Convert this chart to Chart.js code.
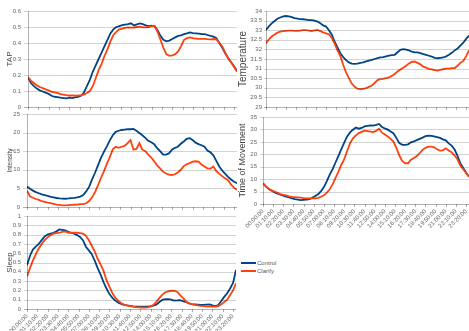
<!DOCTYPE html>
<html>
<head>
<meta charset="utf-8">
<script src="https://cdn.jsdelivr.net/npm/chart.js@4"></script>
<style>
  html, body { margin: 0; padding: 0; background: #fff; }
  body { width: 469px; height: 331px; position: relative; overflow: hidden; font-family: "Liberation Sans", Arial, sans-serif; }
  canvas { position: absolute; z-index: 1; }
  .rule { position: absolute; z-index: 2; mix-blend-mode: multiply; pointer-events: none; }
  #legend { position: absolute; left: 241px; top: 259px; font-size: 6px; color: #555; }
  #legend div { height: 8px; line-height: 8px; white-space: nowrap; }
  #legend .sw { display: inline-block; width: 15px; height: 2px; vertical-align: middle; margin-right: 1px; }
</style>
</head>
<body>
<div id="legend"></div>
<script>
// x axis: one reading every 20 minutes, labels every 70 minutes
const xTickLabels = ['00:00:00', '01:10:00', '02:20:00', '03:30:00', '04:40:00', '05:50:00', '07:00:00',
  '08:10:00', '09:20:00', '10:30:00', '11:40:00', '12:50:00', '14:00:00', '15:10:00', '16:20:00',
  '17:30:00', '18:40:00', '19:50:00', '21:00:00', '22:10:00', '23:20:00'];
const seriesNames = ['Control', 'Clarify'];

// y tick labels per panel
const tapTicks = [0, 0.1, 0.2, 0.3, 0.4, 0.5, 0.6];
const tempTicks = [29, 29.5, 30, 30.5, 31, 31.5, 32, 32.5, 33, 33.5, 34];
const intensityTicks = [0, 5, 10, 15, 20, 25];
const movementTicks = [0, 5, 10, 15, 20, 25, 30, 35];
const sleepTicks = [0, 0.1, 0.2, 0.3, 0.4, 0.5, 0.6, 0.7, 0.8, 0.9, 1];

// series (72 readings, 00:00 .. 23:40)
const tapControl = [
  .187, .15, .13, .115, .104, .097, .090, .082, .070, .064, .062, .058,
  .056, .054, .058, .056, .060, .064, .070, .090, .13, .17, .22, .26,
  .30, .34, .38, .42, .46, .485, .50, .505, .512, .515, .518, .523,
  .510, .516, .522, .518, .510, .505, .508, .505, .48, .445, .42, .41,
  .415, .425, .435, .444, .448, .455, .46, .466, .462, .46, .458, .456,
  .455, .45, .444, .44, .43, .40, .37, .335, .305, .28, .255, .225];
const tapClarify = [
  .187, .165, .150, .135, .125, .118, .110, .104, .095, .092, .088, .081,
  .078, .074, .072, .072, .071, .072, .074, .078, .087, .10, .13, .18,
  .23, .27, .32, .36, .41, .45, .47, .485, .49, .495, .498, .496,
  .497, .50, .502, .498, .498, .50, .505, .506, .47, .42, .37, .33,
  .32, .322, .33, .347, .38, .42, .43, .435, .43, .428, .426, .426,
  .426, .424, .423, .425, .423, .40, .378, .34, .305, .28, .25, .22];

const tempControl = [
  33.01, 33.2, 33.36, 33.48, 33.6, 33.66, 33.72, 33.74, 33.72, 33.68, 33.63, 33.6,
  33.58, 33.57, 33.55, 33.53, 33.52, 33.5, 33.45, 33.36, 33.25, 33.19, 33.0, 32.78,
  32.4, 32.1, 31.8, 31.6, 31.44, 31.32, 31.26, 31.25, 31.26, 31.3, 31.33, 31.38,
  31.42, 31.45, 31.5, 31.54, 31.58, 31.6, 31.64, 31.68, 31.7, 31.72, 31.85, 31.98,
  32.01, 31.99, 31.95, 31.88, 31.85, 31.84, 31.8, 31.76, 31.72, 31.67, 31.62, 31.56,
  31.54, 31.56, 31.58, 31.64, 31.72, 31.82, 31.95, 32.05, 32.2, 32.35, 32.55, 32.72];
const tempClarify = [
  32.32, 32.52, 32.67, 32.78, 32.87, 32.92, 32.95, 32.97, 32.98, 32.98, 32.97, 32.96,
  32.98, 33.0, 33.0, 32.98, 32.96, 32.99, 33.01, 32.95, 32.89, 32.84, 32.79, 32.6,
  32.3, 31.95, 31.65, 31.2, 30.8, 30.5, 30.22, 30.05, 29.95, 29.93, 29.95, 29.98,
  30.05, 30.12, 30.25, 30.4, 30.45, 30.47, 30.5, 30.54, 30.62, 30.72, 30.85, 30.95,
  31.05, 31.15, 31.27, 31.35, 31.37, 31.3, 31.22, 31.1, 31.05, 30.99, 30.96, 30.92,
  30.9, 30.94, 30.97, 31.0, 31.0, 31.02, 31.03, 31.15, 31.3, 31.4, 31.65, 31.95];

const intensityControl = [
  5.54, 4.9, 4.4, 4.0, 3.7, 3.4, 3.2, 3.0, 2.75, 2.6, 2.42, 2.3,
  2.25, 2.22, 2.3, 2.4, 2.45, 2.6, 2.8, 3.2, 4.2, 5.4, 7.4, 9.2,
  11.2, 13.2, 14.8, 16.3, 17.9, 19.3, 20.2, 20.5, 20.7, 20.8, 20.9, 20.9,
  21.0, 20.5, 19.9, 19.3, 18.6, 17.8, 17.4, 16.9, 15.8, 15.0, 14.1, 14.1,
  14.4, 15.4, 15.9, 16.2, 17.0, 17.6, 18.3, 18.5, 18.0, 17.3, 16.9, 16.6,
  16.2, 15.2, 14.7, 13.9, 12.4, 10.9, 9.8, 8.9, 8.1, 7.4, 6.8, 6.4];
const intensityClarify = [
  4.38, 2.9, 2.5, 2.15, 1.9, 1.6, 1.4, 1.2, 1.05, 0.85, 0.65, 0.55,
  0.45, 0.45, 0.5, 0.55, 0.6, 0.65, 0.75, 0.8, 1.0, 1.6, 2.6, 4.0,
  5.8, 7.8, 9.6, 11.6, 13.4, 15.5, 16.2, 15.9, 16.2, 16.4, 17.2, 18.0,
  15.4, 15.6, 17.2, 15.4, 15.0, 14.1, 13.3, 12.3, 11.2, 10.4, 9.5, 9.0,
  8.7, 8.6, 8.8, 9.3, 10.0, 11.0, 11.5, 11.8, 12.2, 12.3, 12.2, 11.4,
  10.9, 10.4, 10.3, 10.9, 9.6, 8.9, 8.3, 7.7, 7.2, 6.0, 5.2, 4.6];

const movementControl = [
  8.3, 7.1, 6.0, 5.3, 4.7, 4.2, 3.8, 3.4, 3.0, 2.7, 2.3, 2.0,
  1.8, 1.6, 1.7, 1.75, 2.0, 2.5, 3.2, 3.9, 5.2, 6.8, 9.2, 11.8,
  14.0, 16.7, 19.4, 22.1, 24.7, 27.2, 28.8, 29.9, 30.8, 30.3, 30.6, 31.2,
  31.4, 31.6, 31.5, 31.8, 32.2, 31.0, 30.4, 29.9, 29.2, 28.4, 26.5, 24.5,
  23.8, 23.8, 24.0, 24.8, 25.2, 25.7, 26.2, 26.7, 27.3, 27.5, 27.4, 27.2,
  26.9, 26.6, 26.0, 25.6, 24.4, 23.5, 22.0, 19.5, 16.4, 14.5, 12.6, 11.0];
const movementClarify = [
  8.3, 7.0, 6.1, 5.5, 5.0, 4.5, 4.0, 3.7, 3.5, 3.1, 2.9, 2.8,
  2.7, 2.6, 2.4, 2.3, 2.3, 2.3, 2.3, 2.5, 2.9, 3.5, 4.6, 5.9,
  8.0, 10.5, 13.0, 15.8, 18.0, 21.3, 24.4, 26.4, 27.6, 28.5, 29.0, 29.5,
  29.3, 29.1, 28.9, 29.4, 30.3, 28.7, 28.0, 27.2, 26.2, 25.0, 22.5, 19.5,
  17.2, 16.4, 16.4, 17.8, 18.5, 19.3, 20.5, 21.8, 22.6, 23.1, 23.1, 22.8,
  22.0, 21.5, 21.6, 22.4, 21.5, 20.8, 19.6, 18.0, 15.5, 14.0, 12.5, 11.0];

const sleepControl = [
  0.47, 0.57, 0.64, 0.67, 0.70, 0.74, 0.78, 0.80, 0.81, 0.82, 0.835, 0.855,
  0.85, 0.845, 0.83, 0.82, 0.81, 0.795, 0.775, 0.74, 0.67, 0.63, 0.59, 0.52,
  0.44, 0.37, 0.29, 0.22, 0.16, 0.12, 0.09, 0.068, 0.054, 0.045, 0.038, 0.033,
  0.028, 0.025, 0.026, 0.025, 0.024, 0.026, 0.03, 0.036, 0.05, 0.075, 0.098, 0.107,
  0.105, 0.1, 0.09, 0.092, 0.096, 0.085, 0.075, 0.06, 0.052, 0.05, 0.047, 0.043,
  0.045, 0.048, 0.05, 0.04, 0.032, 0.043, 0.085, 0.13, 0.17, 0.22, 0.28, 0.42];
const sleepClarify = [
  0.35, 0.44, 0.52, 0.59, 0.65, 0.70, 0.74, 0.77, 0.795, 0.81, 0.815, 0.82,
  0.83, 0.835, 0.82, 0.82, 0.822, 0.82, 0.815, 0.81, 0.79, 0.74, 0.68, 0.62,
  0.54, 0.48, 0.41, 0.31, 0.24, 0.17, 0.12, 0.09, 0.065, 0.045, 0.038, 0.032,
  0.026, 0.02, 0.018, 0.016, 0.014, 0.018, 0.025, 0.045, 0.08, 0.12, 0.155, 0.18,
  0.19, 0.196, 0.195, 0.186, 0.15, 0.12, 0.08, 0.065, 0.05, 0.044, 0.038, 0.033,
  0.03, 0.028, 0.025, 0.025, 0.025, 0.03, 0.05, 0.075, 0.1, 0.15, 0.2, 0.275];

const STEP_MIN = 20;
const sampleMinutes = tapControl.map((_, i) => i * STEP_MIN);
const tickMinutes = xTickLabels.map(t => Number(t.slice(0, 2)) * 60 + Number(t.slice(3, 5)));

const CONTROL = '#004586';
const CLARIFY = '#ff420e';
const GRID = '#d3d3d3';
const AXIS = '#b3b3b3';
const FONT = '"Liberation Sans", Arial, sans-serif';

const panels = [
  { title: 'TAP', titleSize: 8, titlePad: 5, control: tapControl, clarify: tapClarify, ticks: tapTicks,
    left: 0, top: 6, width: 237, height: 106, axisW: 28, axisH: 5, tickLen: 4, tickPad: 3, xLabels: false },
  { title: 'Temperature', titleSize: 10, titlePad: 1, control: tempControl, clarify: tempClarify, ticks: tempTicks,
    left: 236, top: 6, width: 233, height: 106, axisW: 30, axisH: 5, tickLen: 2, tickPad: 2, xLabels: false },
  { title: 'Intensity', titleSize: 6.5, titlePad: 6, control: intensityControl, clarify: intensityClarify, ticks: intensityTicks,
    left: 0, top: 109, width: 237, height: 103, axisW: 27, axisH: 5, tickLen: 4, tickPad: 3, xLabels: false },
  { title: 'Time of Movement', titleSize: 9, titlePad: 2.6, control: movementControl, clarify: movementClarify, ticks: movementTicks,
    left: 235, top: 112, width: 234, height: 122, axisW: 28, axisH: 30, tickLen: 3, tickPad: 3, xLabels: true },
  { title: 'Sleep', titleSize: 8, titlePad: 5, control: sleepControl, clarify: sleepClarify, ticks: sleepTicks,
    left: 0, top: 211, width: 236, height: 120, axisW: 27, axisH: 22, tickLen: 3, tickPad: 3, xLabels: true }
];

function toPoints(values) {
  return values.map((v, i) => ({ x: sampleMinutes[i], y: v }));
}

// 1px rule as a page element (multiply blend keeps the data lines intact where they cross)
function rule(x, y, w, h, color) {
  const d = document.createElement('div');
  d.className = 'rule';
  d.style.left = x + 'px';
  d.style.top = y + 'px';
  d.style.width = w + 'px';
  d.style.height = h + 'px';
  d.style.background = color;
  document.body.appendChild(d);
}

panels.forEach(p => {
  const cv = document.createElement('canvas');
  cv.width = p.width;
  cv.height = p.height;
  cv.style.left = p.left + 'px';
  cv.style.top = p.top + 'px';
  document.body.appendChild(cv);

  const chart = new Chart(cv, {
    type: 'line',
    data: {
      datasets: [
        { label: seriesNames[0], data: toPoints(p.control), borderColor: CONTROL, order: 1 },
        { label: seriesNames[1], data: toPoints(p.clarify), borderColor: CLARIFY, order: 0 }
      ]
    },
    options: {
      responsive: false,
      animation: false,
      devicePixelRatio: 1,
      elements: { point: { radius: 0 }, line: { borderWidth: 1.8, tension: 0 } },
      layout: { padding: { top: 5, right: 0, bottom: 0, left: 0 } },
      plugins: { legend: { display: false }, tooltip: { enabled: false } },
      scales: {
        x: {
          type: 'linear',
          min: 0,
          max: sampleMinutes[sampleMinutes.length - 1],
          afterBuildTicks: s => { s.ticks = tickMinutes.map(v => ({ value: v })); },
          afterFit: s => { s.height = p.axisH; s.paddingLeft = 0; s.paddingRight = 0; },
          ticks: {
            display: p.xLabels, autoSkip: false, minRotation: 45, maxRotation: 45, padding: 4,
            font: { size: 6, family: FONT }, color: '#666',
            callback: (v, i) => xTickLabels[i]
          },
          grid: { display: false, drawTicks: false },
          border: { display: false }
        },
        y: {
          min: p.ticks[0],
          max: p.ticks[p.ticks.length - 1],
          afterBuildTicks: s => { s.ticks = p.ticks.map(v => ({ value: v })); },
          afterFit: s => { s.width = p.axisW; s.paddingTop = 0; s.paddingBottom = 0; },
          ticks: { autoSkip: false, padding: p.tickPad, font: { size: 6, family: FONT }, color: '#666', callback: v => String(v) },
          grid: { display: false, drawTicks: true, tickLength: p.tickLen },
          border: { display: false },
          title: {
            display: true, text: p.title, color: '#444',
            font: { size: p.titleSize, family: FONT },
            padding: { top: p.titlePad, bottom: 0 }
          }
        }
      }
    }
  });

  // gridlines and axis lines, positioned from the chart's own scales
  const a = chart.chartArea;
  const xs = chart.scales.x;
  const ys = chart.scales.y;
  const left = p.left + Math.round(a.left);
  const right = p.left + Math.round(a.right);
  const top = p.top + Math.round(a.top);
  const base = p.top + Math.round(ys.getPixelForValue(ys.min));
  p.ticks.forEach(v => {
    if (v === ys.min) return;
    rule(left - p.tickLen, p.top + Math.round(ys.getPixelForValue(v)), right - left + p.tickLen, 1, GRID);
  });
  rule(left - p.tickLen, base, right - left + p.tickLen, 1, AXIS);
  rule(left, top, 1, base - top + 1, AXIS);
  tickMinutes.forEach(m => {
    rule(p.left + Math.round(xs.getPixelForValue(m)), base, 1, 3, AXIS);
  });
});

// legend
const legend = document.getElementById('legend');
[CONTROL, CLARIFY].forEach((c, i) => {
  const row = document.createElement('div');
  row.innerHTML = '<span class="sw" style="background:' + c + '"></span>' + seriesNames[i];
  legend.appendChild(row);
});
</script>
</body>
</html>
